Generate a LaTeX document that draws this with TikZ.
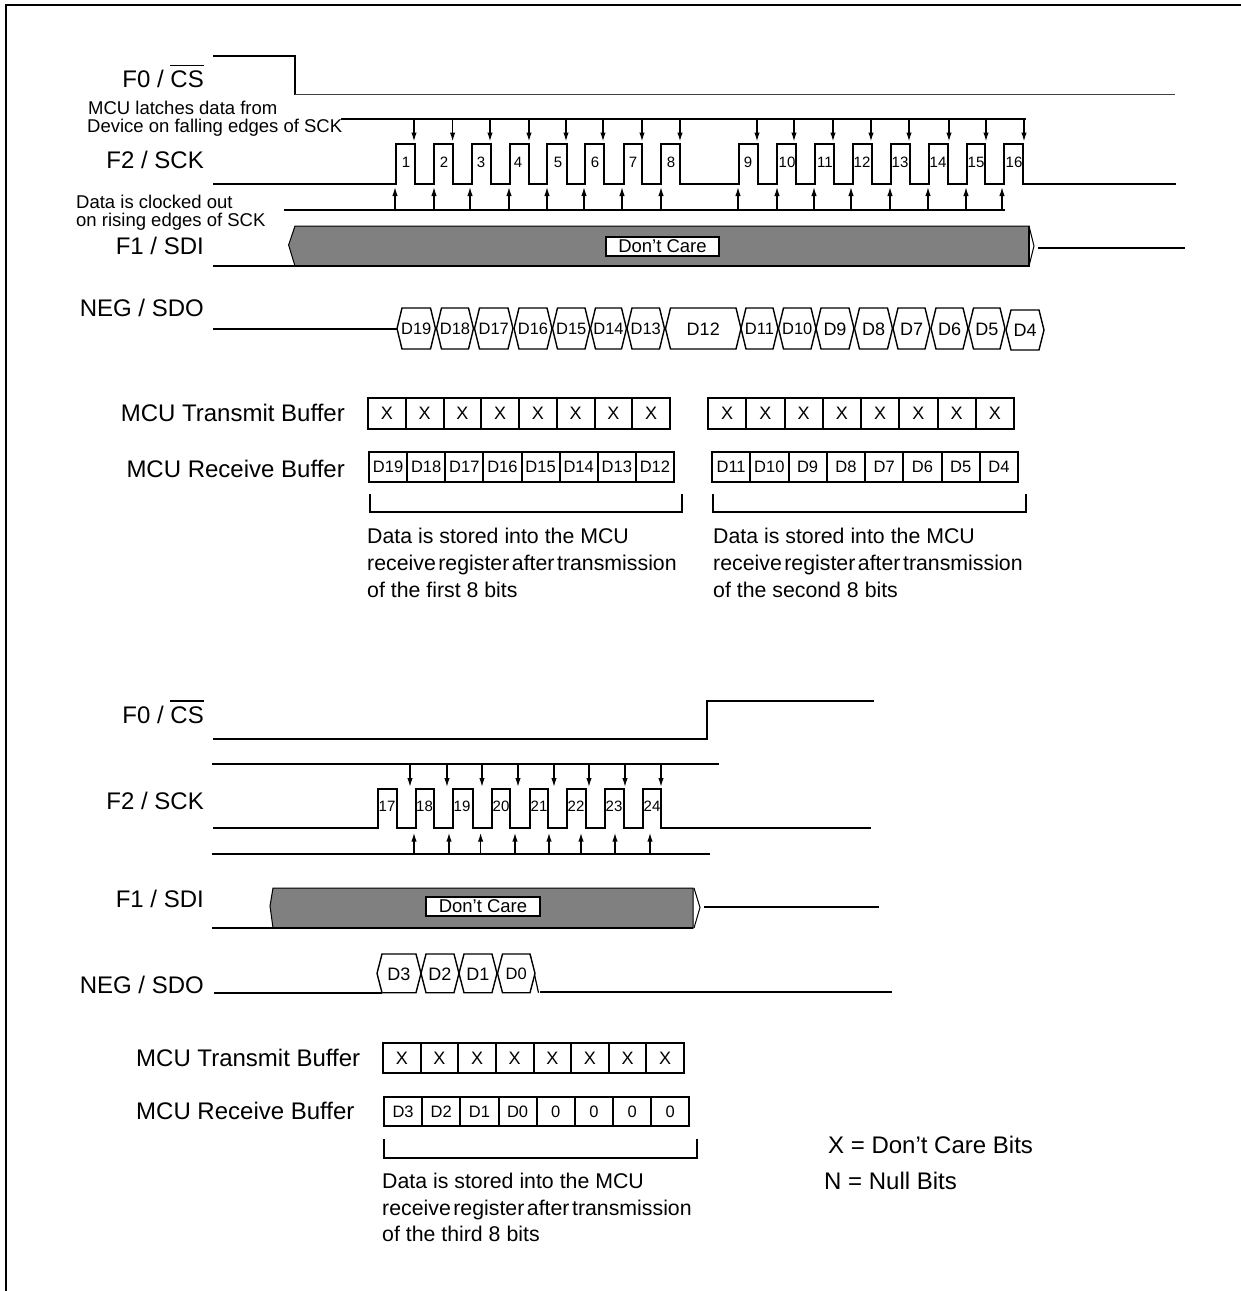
\documentclass[tikz,border=0pt]{standalone}
\usepackage{fontspec}
\setmainfont{Liberation Sans}
\usetikzlibrary{arrows.meta}
\newcommand\fs[1]{\fontsize{#1}{#1}\selectfont}
\tikzset{
  x=1pt,y=-1pt,
  sig/.style={line width=2pt,line join=miter},
  thinsig/.style={line width=1.5pt},
  buf/.style={line width=2pt},
  arr/.style={line width=1.4pt,-{Latex[length=9pt,width=5.5pt]}},
  hexa/.style={line width=1.4pt,fill=white},
  lab/.style={inner sep=0pt,anchor=base east,font=\fs{24}},
  note/.style={inner sep=0pt,anchor=base west,font=\fs{18.5}},
  para/.style={inner sep=0pt,anchor=base west,font=\fs{21.3}},
  num/.style={inner sep=0pt,font=\fs{15}},
  care/.style={draw,line width=2pt,fill=white,inner sep=0pt,minimum width=#1,minimum height=19pt,font=\fs{18.5}},
  cell/.style={inner sep=0pt,font=\fs{#1}}
}
\newcommand\bufrow[7]{%
  \draw[buf] (#2,#4) rectangle (#3,#5);
  \pgfmathsetmacro\cw{(#3-#2)/8}
  \foreach \t [count=\i] in {#7}{%
    \pgfmathsetmacro\cx{#2+(\i-0.5)*\cw}
    \node[cell=#6] (#1\i) at ({\cx},{(#4+#5)/2}) {\t};
    \ifnum\i<8 \pgfmathsetmacro\lx{#2+\i*\cw}\draw[buf] ({\lx},#4) -- ({\lx},#5);\fi
  }%
}
\newcommand\hex[7]{% name,left,right,top,bot,size,label
  \pgfmathsetmacro\hm{(#4+#5)/2}
  \draw[hexa] (#2,\hm) -- (#2+5,#4) -- (#3-5,#4) -- (#3,\hm) -- (#3-5,#5) -- (#2+5,#5) -- cycle;
  \node[cell=#6] (#1) at ({(#2+#3)/2},{\hm+0.5}) {#7};
}
\begin{document}
\begin{tikzpicture}
\useasboundingbox (0,0) rectangle (1241,1291);
% frame
\draw[line width=2pt] (6,1291) -- (6,5) -- (1241,5);

% ---------- upper diagram ----------
\node[lab] (cs1) at (204,87) {F0 / CS};
\draw[line width=1.4pt] (170,65.7) -- (204,65.7);
\node[lab] (sck1) at (204,168) {F2 / SCK};
\node[lab] (sdi1) at (204,254) {F1 / SDI};
\node[lab] (sdo1) at (204,316) {NEG / SDO};
\node[note] (m1) at (88,114) {MCU latches data from};
\node[note] (m2) at (87,132) {Device on falling edges of SCK};
\node[note] (d1) at (76,208.7) {Data is clocked out};
\node[note] (d2) at (76,226.7) {on rising edges of SCK};

\draw[sig] (213,56) -- (295,56) -- (295,94.5);
\draw[thinsig,black!75] (295,94.5) -- (1175,94.5);

\draw[sig] (341,118.5) -- (1026,118.5);
\foreach \x in {414,452.6,490,529,566,603,642,680,757,794,833,871,909,949,986,1024}
  \draw[arr] (\x,118.5) -- (\x,141.5);

\draw[sig] (213,183.5) foreach \r/\f in {396/415,434/453,472/491,510/529,547/567,585/604,624/642,661/680,739/758,777/796,815/834,853/872,891/909.5,929/947.5,967/985,1004/1023}
  { -- (\r,183.5) -- (\r,143.5) -- (\f,143.5) -- (\f,183.5) } -- (1176,183.5);
\foreach \x/\t in {406/1,444/2,481/3,518/4,558/5,595/6,633/7,671/8,748/9,787/10,825/11,862/12,900/13,938/14,976/15,1014/16}
  \node[num] (p\t) at (\x,162.5) {\t};

\draw[sig] (284,210) -- (1004.5,210);
\foreach \x in {395,434,470,509,547,584,622,661,738,777,814,851,890,928,966,1002}
  \draw[arr] (\x,210) -- (\x,187);

\draw[line width=1pt,fill=black!50] (295,266) -- (288.6,245) -- (295,226) -- (1029,226) -- (1029,266) -- cycle;
\draw[line width=1pt] (1029,226) -- (1034,246) -- (1029,266);
\draw[sig] (213,266) -- (1030,266);
\draw[sig] (1029,226) -- (1029,267);
\draw[sig] (1038,248) -- (1185,248);
\node[care=113pt] (dc1) at (662.5,246) {Don’t Care};

\draw[sig] (213,329) -- (398,329);
\foreach \a/\b/\t/\s in {397/435.5/D19/16.5,436.5/473.5/D18/16.5,474.5/513/D17/16.5,514/552/D16/16.5,552.5/590/D15/16.5,590.5/626.5/D14/16.5,627/664.5/D13/16.5,665.5/741/D12/18,741/778/D11/16.5,778.5/816/D10/16.5,816/854/D9/18,854.5/892.5/D8/18,893/930/D7/18,931/968/D6/18,968.5/1005/D5/18}
  {\hex{\t}{\a}{\b}{308}{349}{\s}{\t}}
\hex{D4}{1006}{1044}{310}{350}{18}{D4}

\node[lab] (t1) at (345,421.7) {MCU Transmit Buffer};
\node[lab] (r1) at (345,477) {MCU Receive Buffer};
\bufrow{ta}{368}{670}{398}{429}{18}{X,X,X,X,X,X,X,X}
\bufrow{ra}{369}{674}{452}{482}{16.5}{D19,D18,D17,D16,D15,D14,D13,D12}
\draw[sig] (369.5,494) -- (369.5,512) -- (682,512) -- (682,494);
\node[para] (sa1) at (367,543) {Data is stored into the MCU};
\node[para] (sa2) at (367,570.5) {\spaceskip=0.12em receive register after transmission};
\node[para] (sa3) at (367,597) {of the first 8 bits};

\bufrow{tb}{708}{1014}{398}{429}{18}{X,X,X,X,X,X,X,X}
\bufrow{rb}{712}{1018}{452}{482}{16.5}{D11,D10,D9,D8,D7,D6,D5,D4}
\draw[sig] (712.5,494) -- (712.5,512) -- (1026,512) -- (1026,494);
\node[para] (sb1) at (713,543) {Data is stored into the MCU};
\node[para] (sb2) at (713,570.5) {\spaceskip=0.12em receive register after transmission};
\node[para] (sb3) at (713,597) {of the second 8 bits};

% ---------- lower diagram ----------
\node[lab] (cs2) at (204,723) {F0 / CS};
\draw[line width=1.4pt] (170,701) -- (204,701);
\node[lab] (sck2) at (204,809) {F2 / SCK};
\node[lab] (sdi2) at (204,907) {F1 / SDI};
\node[lab] (sdo2) at (204,993) {NEG / SDO};

\draw[sig] (213,739) -- (707,739) -- (707,701) -- (874,701);

\draw[sig] (212,763.7) -- (719,763.7);
\foreach \x in {410,447,482,518,554,589,625,661}
  \draw[arr] (\x,763.7) -- (\x,787);

\draw[sig] (213,827.5) foreach \r/\f in {378/397,416/434,453/472.6,491.5/510,530/548,567/586,605/624,643/661}
  { -- (\r,827.5) -- (\r,788.7) -- (\f,788.7) -- (\f,827.5) } -- (871,827.5);
\foreach \x/\t in {387/17,424.5/18,462/19,501/20,539/21,576/22,614/23,652/24}
  \node[num] (p\t) at (\x,806.7) {\t};

\draw[sig] (212,854) -- (709.5,854);
\foreach \x in {414,449,480.6,515,549,581,615,650}
  \draw[arr] (\x,854) -- (\x,832.7);

\draw[line width=1pt,fill=black!50] (273,928) -- (270,906) -- (273,888) -- (693,888) -- (693,928) -- cycle;
\draw[line width=1pt] (694,888) -- (700,907.5) -- (694,928);
\draw[sig] (212,928) -- (693,928);
\draw[sig] (704,906.7) -- (878.5,906.7);
\node[care=114pt] (dc2) at (483,906.5) {Don’t Care};

\draw[sig] (214,992.7) -- (382,992.7);
\draw[line width=1.2pt] (530,954) -- (538.5,992.7);
\hex{D3}{377}{421}{954}{992.7}{18}{D3}
\hex{D2}{421}{459}{954}{992.7}{18}{D2}
\hex{D1}{459}{497}{954}{992.7}{18}{D1}
\hex{D0}{497.5}{535}{954}{992.7}{16.5}{D0}
\draw[sig] (540,991.7) -- (891.7,991.7);

\node[lab,anchor=base west] (t3) at (136,1066) {MCU Transmit Buffer};
\node[lab,anchor=base west] (r3) at (136,1119) {MCU Receive Buffer};
\bufrow{tc}{383}{684}{1043}{1073}{18}{X,X,X,X,X,X,X,X}
\bufrow{rc}{384}{689.4}{1097}{1126}{16.5}{D3,D2,D1,D0,0,0,0,0}
\draw[sig] (384,1139) -- (384,1157.5) -- (697,1157.5) -- (697,1139);
\node[para] (sc1) at (382,1188) {Data is stored into the MCU};
\node[para] (sc2) at (382,1215) {\spaceskip=0.12em receive register after transmission};
\node[para] (sc3) at (382,1241.7) {of the third 8 bits};

\node[lab,anchor=base west] (k1) at (828,1153) {X = Don’t Care Bits};
\node[lab,anchor=base west] (k2) at (824,1189) {N = Null Bits};
\end{tikzpicture}
\end{document}
